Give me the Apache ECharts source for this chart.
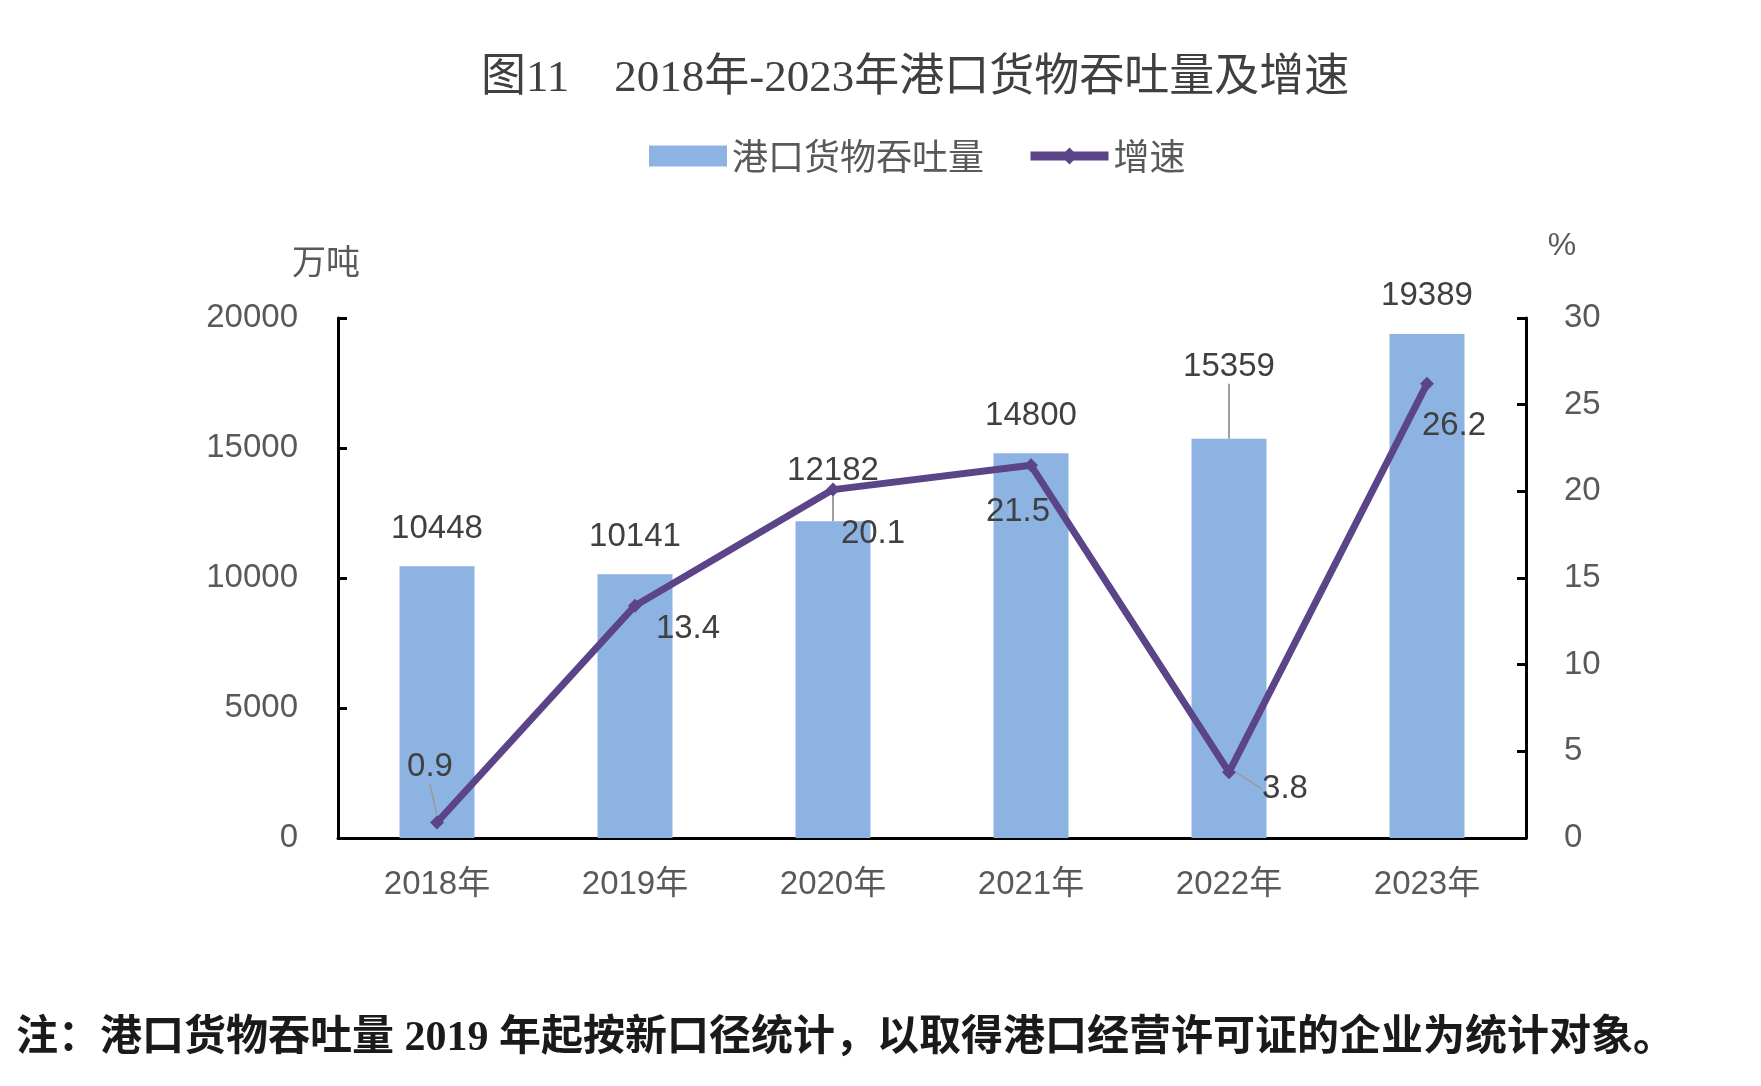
<!DOCTYPE html>
<html>
<head>
<meta charset="utf-8">
<script src="https://cdn.jsdelivr.net/npm/echarts@6/dist/echarts.min.js"></script>
<style>
html, body {margin: 0; padding: 0; background: #fff;}
#chart {width: 1761px; height: 1086px;}
</style>
</head>
<body>
<div id="chart"></div>
<script>
var years = ['2018年', '2019年', '2020年', '2021年', '2022年', '2023年'];
var throughput = [10448, 10141, 12182, 14800, 15359, 19389];
var growth = [0.9, 13.4, 20.1, 21.5, 3.8, 26.2];
var leftTicks = {min: 0, max: 20000, interval: 5000};
var rightTicks = {min: 0, max: 30, interval: 5};

// label nudges (px), picked to sit like the original
var barLabelDy = [-16, -16, -29, -16, -50, -16];
var barLeader = [false, false, true, false, true, false];
var lineLabelOff = [[-7, -55], [53, 23], [40, 44], [-13, 47], [56, 17], [27, 42]];
var lineLeader = [true, false, false, false, true, false];

var numFont = "'Liberation Sans', 'Noto Sans CJK SC', sans-serif";
var cjkFont = "'Noto Sans CJK SC', 'Liberation Sans', sans-serif";
var axisCol = '#000';
var textCol = '#595959';
var lineCol = '#5B4588';

var barData = throughput.map(function (v, i) {
    return {value: v, labelLine: {show: barLeader[i]}};
});
var lineData = growth.map(function (v, i) {
    return {value: v, labelLine: {show: lineLeader[i]}};
});

var chart = echarts.init(document.getElementById('chart'));
var opt = {
    backgroundColor: '#fff',
    animation: false,
    title: [{
        text: '图11　2018年-2023年港口货物吞吐量及增速',
        left: 476,
        top: 52,
        textStyle: {fontFamily: "'Liberation Serif', 'Noto Sans CJK SC', serif", fontSize: 45, fontWeight: 'normal', color: '#404040'}
    }, {
        text: '注：港口货物吞吐量 2019 年起按新口径统计，以取得港口经营许可证的企业为统计对象。',
        left: 11,
        top: 1013,
        textStyle: {fontFamily: "'Liberation Serif', 'Noto Sans CJK SC', serif", fontSize: 42, fontWeight: 'bold', color: '#1a1a1a'}
    }],
    legend: {
        left: 644,
        top: 133,
        itemWidth: 78,
        itemHeight: 21,
        itemGap: 42,
        textStyle: {fontFamily: cjkFont, fontSize: 36, color: textCol},
        data: [
            {name: '港口货物吞吐量', icon: 'rect'},
            {name: '增速', lineStyle: {width: 9, color: lineCol}}
        ]
    },
    grid: {left: 338, right: 235, top: 318, bottom: 248},
    xAxis: {
        type: 'category',
        data: years,
        axisLine: {lineStyle: {color: axisCol, width: 3}},
        axisTick: {inside: true, length: 10, lineStyle: {color: axisCol, width: 3}},
        axisLabel: {margin: 30, fontFamily: numFont, fontSize: 33, color: textCol}
    },
    yAxis: [{
        type: 'value',
        min: leftTicks.min, max: leftTicks.max, interval: leftTicks.interval,
        name: '万吨',
        nameGap: 40,
        nameTextStyle: {fontFamily: cjkFont, fontSize: 34, color: textCol, padding: [0, 24, 0, 0]},
        axisLine: {show: true, lineStyle: {color: axisCol, width: 3}},
        axisTick: {show: true, inside: true, length: 9, lineStyle: {color: axisCol, width: 3}},
        axisLabel: {margin: 40, fontFamily: numFont, fontSize: 33, color: textCol, formatter: function (v) { return String(v); }},
        splitLine: {show: false}
    }, {
        type: 'value',
        position: 'right',
        min: rightTicks.min, max: rightTicks.max, interval: rightTicks.interval,
        name: '%',
        nameGap: 56,
        nameTextStyle: {fontFamily: numFont, fontSize: 32, color: textCol, padding: [0, 0, 0, 72]},
        axisLine: {show: true, lineStyle: {color: axisCol, width: 3}},
        axisTick: {show: true, inside: true, length: 9, lineStyle: {color: axisCol, width: 3}},
        axisLabel: {margin: 38, fontFamily: numFont, fontSize: 33, color: textCol},
        splitLine: {show: false}
    }],
    series: [{
        name: '港口货物吞吐量',
        type: 'bar',
        yAxisIndex: 0,
        barWidth: 75,
        data: barData,
        itemStyle: {color: '#8DB3E2'},
        label: {show: true, position: 'top', fontFamily: numFont, fontSize: 33, color: '#404040'},
        labelLine: {lineStyle: {color: '#7f7f7f', width: 1.5}},
        labelLayout: function (p) {
            return {dy: barLabelDy[p.dataIndex]};
        }
    }, {
        name: '增速',
        type: 'line',
        yAxisIndex: 1,
        data: lineData,
        z: 5,
        symbol: 'diamond',
        symbolSize: 14,
        lineStyle: {color: lineCol, width: 7},
        itemStyle: {color: lineCol},
        label: {show: true, position: 'inside', fontFamily: numFont, fontSize: 33, color: '#404040'},
        labelLine: {lineStyle: {color: '#999', width: 1.5}},
        labelLayout: function (p) {
            var o = lineLabelOff[p.dataIndex];
            return {dx: o[0], dy: o[1]};
        }
    }]
};
chart.setOption(opt);
</script>
</body>
</html>
